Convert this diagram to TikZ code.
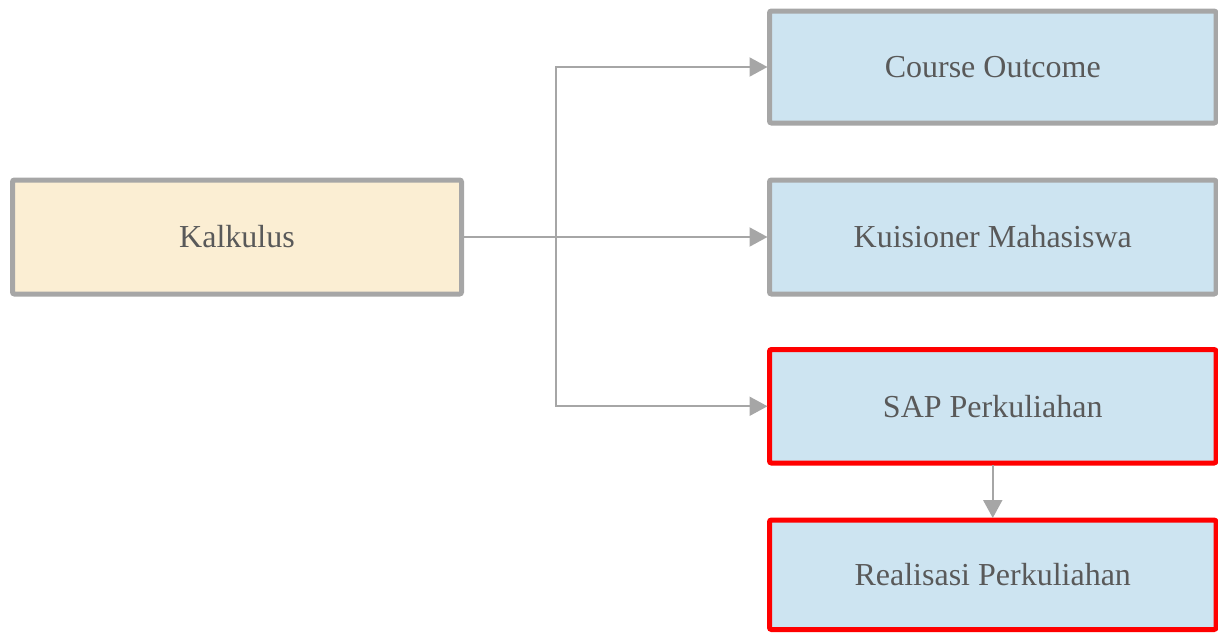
\documentclass[tikz,border=0pt]{standalone}
\usepackage{fontspec}
\setmainfont{Liberation Serif}
\usetikzlibrary{arrows.meta}
\definecolor{edgegray}{HTML}{A6A6A6}
\definecolor{beigefill}{HTML}{FBEED3}
\definecolor{bluefill}{HTML}{CDE4F1}
\definecolor{txtgray}{HTML}{595959}
\definecolor{alertred}{HTML}{FF0000}
\begin{document}
\begin{tikzpicture}[x=1pt,y=-1pt,
  boxbase/.style={draw=edgegray,line width=5pt,rounded corners=2pt,text=txtgray,
    outer sep=0pt,inner sep=0pt,font=\fontsize{32}{38}\selectfont},
  srcbox/.style={boxbase,fill=beigefill},
  dstbox/.style={boxbase,fill=bluefill},
  hotbox/.style={draw=alertred},
  link/.style={draw=edgegray,line width=2pt,
    -{Triangle[length=18pt,width=19pt]}},
  plain/.style={draw=edgegray,line width=2pt}]
\useasboundingbox (0,0) rectangle (1218,632);
% source box
\node[srcbox,minimum width=449pt,minimum height=114pt,anchor=north west] (kal) at (12.5,180) {Kalkulus};
% target boxes
\node[dstbox,minimum width=446.5pt,minimum height=112pt,anchor=north west] (co) at (769.5,11) {Course Outcome};
\node[dstbox,minimum width=446.5pt,minimum height=114pt,anchor=north west] (kui) at (769.5,180) {Kuisioner Mahasiswa};
\node[dstbox,hotbox,minimum width=446.5pt,minimum height=113.5pt,anchor=north west] (sap) at (769.5,349.5) {SAP Perkuliahan};
\node[dstbox,hotbox,minimum width=446.5pt,minimum height=109.5pt,anchor=north west] (real) at (769.5,520) {Realisasi Perkuliahan};
% branching connectors
\coordinate (br) at (556,237);
\draw[link,shorten >=2pt] (kal.east) -- (kui.west);
\draw[link,shorten >=2pt] (br) |- (co.west);
\draw[link,shorten >=2pt] (br) |- (sap.west);
\draw[link,shorten >=2pt,shorten <=2pt] (sap.south) -- (real.north);
\end{tikzpicture}
\end{document}
